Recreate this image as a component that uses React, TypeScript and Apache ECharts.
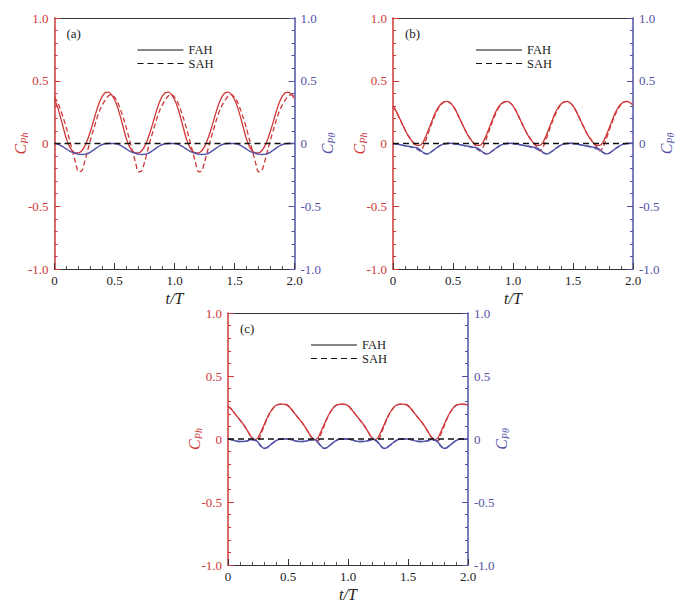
import React, { useEffect, useRef } from "react";
import * as echarts from "echarts";

// t/T sample positions (step 0.025)
const tValues = [
  0, 0.025, 0.05, 0.075, 0.1, 0.125, 0.15, 0.175, 0.2, 0.225, 0.25, 0.275, 0.3, 0.325, 0.35, 0.375, 0.4, 0.425, 0.45, 0.475,
  0.5, 0.525, 0.55, 0.575, 0.6, 0.625, 0.65, 0.675, 0.7, 0.725, 0.75, 0.775, 0.8, 0.825, 0.85, 0.875, 0.9, 0.925, 0.95, 0.975,
  1.0, 1.025, 1.05, 1.075, 1.1, 1.125, 1.15, 1.175, 1.2, 1.225, 1.25, 1.275, 1.3, 1.325, 1.35, 1.375, 1.4, 1.425, 1.45, 1.475,
  1.5, 1.525, 1.55, 1.575, 1.6, 1.625, 1.65, 1.675, 1.7, 1.725, 1.75, 1.775, 1.8, 1.825, 1.85, 1.875, 1.9, 1.925, 1.95, 1.975,
  2.0,
];

// Panel (a)
const cphFAH_a = [
  0.35, 0.29, 0.21, 0.12, 0.035, -0.025, -0.06, -0.075, -0.075, -0.06, -0.025, 0.03, 0.1, 0.18, 0.26, 0.33, 0.38, 0.405, 0.41, 0.39,
  0.35, 0.29, 0.21, 0.12, 0.035, -0.025, -0.06, -0.075, -0.075, -0.06, -0.025, 0.03, 0.1, 0.18, 0.26, 0.33, 0.38, 0.405, 0.41, 0.39,
  0.35, 0.29, 0.21, 0.12, 0.035, -0.025, -0.06, -0.075, -0.075, -0.06, -0.025, 0.03, 0.1, 0.18, 0.26, 0.33, 0.38, 0.405, 0.41, 0.39,
  0.35, 0.29, 0.21, 0.12, 0.035, -0.025, -0.06, -0.075, -0.075, -0.06, -0.025, 0.03, 0.1, 0.18, 0.26, 0.33, 0.38, 0.405, 0.41, 0.39,
  0.36,
];
const cphSAH_a = [
  0.37, 0.33, 0.27, 0.2, 0.12, 0.03, -0.06, -0.15, -0.225, -0.22, -0.15, -0.06, 0.03, 0.11, 0.19, 0.26, 0.31, 0.35, 0.38, 0.39,
  0.37, 0.33, 0.27, 0.2, 0.12, 0.03, -0.06, -0.15, -0.225, -0.22, -0.15, -0.06, 0.03, 0.11, 0.19, 0.26, 0.31, 0.35, 0.38, 0.39,
  0.37, 0.33, 0.27, 0.2, 0.12, 0.03, -0.06, -0.15, -0.225, -0.22, -0.15, -0.06, 0.03, 0.11, 0.19, 0.26, 0.31, 0.35, 0.38, 0.39,
  0.37, 0.33, 0.27, 0.2, 0.12, 0.03, -0.06, -0.15, -0.225, -0.22, -0.15, -0.06, 0.03, 0.11, 0.19, 0.26, 0.31, 0.35, 0.38, 0.39,
  0.37,
];
const cptFAH_a = [
  0, -0.005, -0.015, -0.03, -0.045, -0.06, -0.07, -0.078, -0.085, -0.088, -0.087, -0.08, -0.068, -0.052, -0.035, -0.02, -0.008, -0.002, 0, 0,
  0, -0.005, -0.015, -0.03, -0.045, -0.06, -0.07, -0.078, -0.085, -0.088, -0.087, -0.08, -0.068, -0.052, -0.035, -0.02, -0.008, -0.002, 0, 0,
  0, -0.005, -0.015, -0.03, -0.045, -0.06, -0.07, -0.078, -0.085, -0.088, -0.087, -0.08, -0.068, -0.052, -0.035, -0.02, -0.008, -0.002, 0, 0,
  0, -0.005, -0.015, -0.03, -0.045, -0.06, -0.07, -0.078, -0.085, -0.088, -0.087, -0.08, -0.068, -0.052, -0.035, -0.02, -0.008, -0.002, 0, 0,
  0,
];

// Panel (b)
const cphFAH_b = [
  0.3, 0.26, 0.21, 0.16, 0.11, 0.065, 0.03, 0.0, -0.015, -0.015, 0.01, 0.06, 0.12, 0.18, 0.24, 0.285, 0.315, 0.332, 0.335, 0.325,
  0.3, 0.26, 0.21, 0.16, 0.11, 0.065, 0.03, 0.0, -0.015, -0.015, 0.01, 0.06, 0.12, 0.18, 0.24, 0.285, 0.315, 0.332, 0.335, 0.325,
  0.3, 0.26, 0.21, 0.16, 0.11, 0.065, 0.03, 0.0, -0.015, -0.015, 0.01, 0.06, 0.12, 0.18, 0.24, 0.285, 0.315, 0.332, 0.335, 0.325,
  0.3, 0.26, 0.21, 0.16, 0.11, 0.065, 0.03, 0.0, -0.015, -0.015, 0.01, 0.06, 0.12, 0.18, 0.24, 0.285, 0.315, 0.332, 0.335, 0.325,
  0.31,
];
const cphSAH_b = [
  0.3, 0.26, 0.21, 0.16, 0.11, 0.065, 0.03, 0.0, -0.03, -0.06, -0.03, 0.03, 0.1, 0.165, 0.225, 0.275, 0.31, 0.33, 0.335, 0.325,
  0.3, 0.26, 0.21, 0.16, 0.11, 0.065, 0.03, 0.0, -0.03, -0.06, -0.03, 0.03, 0.1, 0.165, 0.225, 0.275, 0.31, 0.33, 0.335, 0.325,
  0.3, 0.26, 0.21, 0.16, 0.11, 0.065, 0.03, 0.0, -0.03, -0.06, -0.03, 0.03, 0.1, 0.165, 0.225, 0.275, 0.31, 0.33, 0.335, 0.325,
  0.3, 0.26, 0.21, 0.16, 0.11, 0.065, 0.03, 0.0, -0.03, -0.06, -0.03, 0.03, 0.1, 0.165, 0.225, 0.275, 0.31, 0.33, 0.335, 0.325,
  0.31,
];
const cptFAH_b = [
  0, -0.004, -0.008, -0.013, -0.018, -0.022, -0.026, -0.03, -0.035, -0.05, -0.07, -0.083, -0.078, -0.062, -0.044, -0.027, -0.012, -0.003, 0, 0.002,
  0, -0.004, -0.008, -0.013, -0.018, -0.022, -0.026, -0.03, -0.035, -0.05, -0.07, -0.083, -0.078, -0.062, -0.044, -0.027, -0.012, -0.003, 0, 0.002,
  0, -0.004, -0.008, -0.013, -0.018, -0.022, -0.026, -0.03, -0.035, -0.05, -0.07, -0.083, -0.078, -0.062, -0.044, -0.027, -0.012, -0.003, 0, 0.002,
  0, -0.004, -0.008, -0.013, -0.018, -0.022, -0.026, -0.03, -0.035, -0.05, -0.07, -0.083, -0.078, -0.062, -0.044, -0.027, -0.012, -0.003, 0, 0.002,
  0,
];
const cptSAH_b = [
  0, -0.004, -0.008, -0.013, -0.018, -0.022, -0.028, -0.035, -0.045, -0.058, -0.072, -0.083, -0.078, -0.062, -0.044, -0.027, -0.012, -0.003, 0, 0.002,
  0, -0.004, -0.008, -0.013, -0.018, -0.022, -0.028, -0.035, -0.045, -0.058, -0.072, -0.083, -0.078, -0.062, -0.044, -0.027, -0.012, -0.003, 0, 0.002,
  0, -0.004, -0.008, -0.013, -0.018, -0.022, -0.028, -0.035, -0.045, -0.058, -0.072, -0.083, -0.078, -0.062, -0.044, -0.027, -0.012, -0.003, 0, 0.002,
  0, -0.004, -0.008, -0.013, -0.018, -0.022, -0.028, -0.035, -0.045, -0.058, -0.072, -0.083, -0.078, -0.062, -0.044, -0.027, -0.012, -0.003, 0, 0.002,
  0,
];

// Panel (c)
const cphFAH_c = [
  0.26, 0.24, 0.21, 0.18, 0.15, 0.12, 0.085, 0.045, 0.01, -0.005, 0.01, 0.06, 0.11, 0.165, 0.21, 0.245, 0.268, 0.275, 0.277, 0.275,
  0.265, 0.24, 0.21, 0.18, 0.15, 0.12, 0.085, 0.045, 0.01, -0.005, 0.01, 0.06, 0.11, 0.165, 0.21, 0.245, 0.268, 0.275, 0.277, 0.275,
  0.265, 0.24, 0.21, 0.18, 0.15, 0.12, 0.085, 0.045, 0.01, -0.005, 0.01, 0.06, 0.11, 0.165, 0.21, 0.245, 0.268, 0.275, 0.277, 0.275,
  0.265, 0.24, 0.21, 0.18, 0.15, 0.12, 0.085, 0.045, 0.01, -0.005, 0.01, 0.06, 0.11, 0.165, 0.21, 0.245, 0.268, 0.275, 0.277, 0.275,
  0.27,
];
const cphSAH_c = [
  0.26, 0.24, 0.21, 0.18, 0.15, 0.12, 0.085, 0.045, 0.01, -0.01, -0.015, 0.04, 0.1, 0.16, 0.207, 0.243, 0.267, 0.275, 0.277, 0.275,
  0.265, 0.24, 0.21, 0.18, 0.15, 0.12, 0.085, 0.045, 0.01, -0.01, -0.015, 0.04, 0.1, 0.16, 0.207, 0.243, 0.267, 0.275, 0.277, 0.275,
  0.265, 0.24, 0.21, 0.18, 0.15, 0.12, 0.085, 0.045, 0.01, -0.01, -0.015, 0.04, 0.1, 0.16, 0.207, 0.243, 0.267, 0.275, 0.277, 0.275,
  0.265, 0.24, 0.21, 0.18, 0.15, 0.12, 0.085, 0.045, 0.01, -0.01, -0.015, 0.04, 0.1, 0.16, 0.207, 0.243, 0.267, 0.275, 0.277, 0.275,
  0.27,
];
const cptFAH_c = [
  0, -0.005, -0.012, -0.018, -0.02, -0.02, -0.017, -0.01, -0.003, -0.005, -0.025, -0.055, -0.075, -0.068, -0.05, -0.03, -0.013, -0.003, 0, 0,
  0, -0.005, -0.012, -0.018, -0.02, -0.02, -0.017, -0.01, -0.003, -0.005, -0.025, -0.055, -0.075, -0.068, -0.05, -0.03, -0.013, -0.003, 0, 0,
  0, -0.005, -0.012, -0.018, -0.02, -0.02, -0.017, -0.01, -0.003, -0.005, -0.025, -0.055, -0.075, -0.068, -0.05, -0.03, -0.013, -0.003, 0, 0,
  0, -0.005, -0.012, -0.018, -0.02, -0.02, -0.017, -0.01, -0.003, -0.005, -0.025, -0.055, -0.075, -0.068, -0.05, -0.03, -0.013, -0.003, 0, 0,
  0,
];
const cptSAH_c = [
  0, -0.005, -0.012, -0.018, -0.02, -0.02, -0.017, -0.012, -0.008, -0.012, -0.03, -0.058, -0.075, -0.068, -0.05, -0.03, -0.013, -0.003, 0, 0,
  0, -0.005, -0.012, -0.018, -0.02, -0.02, -0.017, -0.012, -0.008, -0.012, -0.03, -0.058, -0.075, -0.068, -0.05, -0.03, -0.013, -0.003, 0, 0,
  0, -0.005, -0.012, -0.018, -0.02, -0.02, -0.017, -0.012, -0.008, -0.012, -0.03, -0.058, -0.075, -0.068, -0.05, -0.03, -0.013, -0.003, 0, 0,
  0, -0.005, -0.012, -0.018, -0.02, -0.02, -0.017, -0.012, -0.008, -0.012, -0.03, -0.058, -0.075, -0.068, -0.05, -0.03, -0.013, -0.003, 0, 0,
  0,
];

// Zero reference line (t/T, value)
const zeroLineT = [0, 2];
const zeroLineV = [0, 0];

const panelLabels = ["(a)", "(b)", "(c)"];
const legendNames = ["FAH", "SAH"];
const yLeftName = "Ph";
const yRightName = "P\u03b8";
const xName = "t/T";

const FONT = "Liberation Serif, Times New Roman, serif";
const RED = "#cf3838";
const BLUE = "#5252a5";
const DARK = "#222";

const App: React.FC = () => {
  const ref = useRef<HTMLDivElement>(null);

  useEffect(() => {
    document.body.style.margin = "0";
    if (!ref.current) return;
    const chart = echarts.init(ref.current, null, { renderer: "svg" });

    const layouts = [
      { left: 54.5, top: 18, width: 240, height: 251 },
      { left: 393, top: 18, width: 240, height: 251 },
      { left: 228, top: 313, width: 240, height: 252 },
    ];
    const panelData = [
      { fah: cphFAH_a, sah: cphSAH_a, tf: cptFAH_a, ts: null as number[] | null },
      { fah: cphFAH_b, sah: cphSAH_b, tf: cptFAH_b, ts: cptSAH_b },
      { fah: cphFAH_c, sah: cphSAH_c, tf: cptFAH_c, ts: cptSAH_c },
    ];
    const pair = (arr: number[]) => tValues.map((t, i) => [t, arr[i]]);
    const fmt = (v: number) => (v === 0 ? "0" : v.toFixed(1));

    const grid: any[] = [];
    const xAxis: any[] = [];
    const yAxis: any[] = [];
    const series: any[] = [];
    const graphic: any[] = [];

    layouts.forEach((L, i) => {
      grid.push({ left: L.left, top: L.top, width: L.width, height: L.height, containLabel: false });
      xAxis.push({
        type: "value",
        gridIndex: i,
        min: 0,
        max: 2,
        interval: 0.5,
        position: "bottom",
        axisLine: { show: true, onZero: false, lineStyle: { color: "#333", width: 1.2 } },
        axisTick: { show: true, inside: true, length: 6, lineStyle: { color: "#333" } },
        minorTick: { show: true, splitNumber: 5, length: 3, lineStyle: { color: "#555" } },
        splitLine: { show: false },
        axisLabel: { color: DARK, fontFamily: FONT, fontSize: 13, margin: 5, formatter: fmt },
        name: xName,
        nameLocation: "middle",
        nameGap: 21,
        nameMoveOverlap: false,
        nameTextStyle: { color: DARK, fontFamily: FONT, fontSize: 16, fontStyle: "italic" },
      });
      xAxis.push({
        type: "value",
        gridIndex: i,
        min: 0,
        max: 2,
        position: "top",
        axisLine: { show: true, onZero: false, lineStyle: { color: "#333", width: 1.2 } },
        axisTick: { show: false },
        axisLabel: { show: false },
        splitLine: { show: false },
      });
      const yBase = (color: string, pos: string, nm: string, gap: number) => ({
        type: "value",
        gridIndex: i,
        min: -1,
        max: 1,
        interval: 0.5,
        position: pos,
        axisLine: { show: true, onZero: false, lineStyle: { color, width: 1.5 } },
        axisTick: { show: true, inside: true, length: 6, lineStyle: { color } },
        minorTick: { show: true, splitNumber: 5, length: 3, lineStyle: { color } },
        splitLine: { show: false },
        axisLabel: { color, fontFamily: FONT, fontSize: 13, margin: 6, formatter: fmt },
        name: "{c|C}{s|" + nm + "}",
        nameLocation: "middle",
        nameRotate: 90,
        nameGap: gap,
        nameMoveOverlap: false,
        nameTextStyle: {
          color,
          rich: {
            c: { color, fontFamily: FONT, fontSize: 16, fontStyle: "italic", lineHeight: 16, verticalAlign: "top" },
            s: { color, fontFamily: FONT, fontSize: 10, fontStyle: "italic", lineHeight: 10, padding: [7, 0, 0, 0], verticalAlign: "top" },
          },
        },
      });
      yAxis.push(yBase(RED, "left", yLeftName, 26));
      yAxis.push(yBase(BLUE, "right", yRightName, 25));

      const d = panelData[i];
      const common = { type: "line", showSymbol: false, smooth: 0.3, silent: true };
      series.push({ ...common, name: "FAH C_Ph", xAxisIndex: 2 * i, yAxisIndex: 2 * i, data: pair(d.fah), lineStyle: { color: RED, width: 1.3 } });
      series.push({ ...common, name: "SAH C_Ph", xAxisIndex: 2 * i, yAxisIndex: 2 * i, data: pair(d.sah), lineStyle: { color: RED, width: 1.3, type: [5, 3] } });
      series.push({ ...common, name: "FAH C_Ptheta", xAxisIndex: 2 * i, yAxisIndex: 2 * i + 1, data: pair(d.tf), lineStyle: { color: BLUE, width: 1.4 } });
      if (d.ts) {
        series.push({ ...common, name: "SAH C_Ptheta", xAxisIndex: 2 * i, yAxisIndex: 2 * i + 1, data: pair(d.ts), lineStyle: { color: BLUE, width: 1.3, type: [5, 3] } });
      }
      series.push({
        type: "line",
        name: "zero",
        showSymbol: false,
        silent: true,
        xAxisIndex: 2 * i,
        yAxisIndex: 2 * i + 1,
        data: zeroLineT.map((t, k) => [t, zeroLineV[k]]),
        lineStyle: { color: "#111", width: 1.5, type: [6, 4] },
      });

      // legend & panel label
      const lx = L.left + 83;
      const ly1 = L.top + 32;
      const ly2 = L.top + 45.5;
      const tf = "12.5px " + FONT;
      graphic.push({ type: "line", shape: { x1: lx, y1: ly1, x2: lx + 46, y2: ly1 }, style: { stroke: "#111", lineWidth: 1.2 } });
      graphic.push({ type: "line", shape: { x1: lx, y1: ly2, x2: lx + 46, y2: ly2 }, style: { stroke: "#111", lineWidth: 1.2, lineDash: [6, 4] } });
      graphic.push({ type: "text", x: lx + 51, y: ly1, style: { text: legendNames[0], fill: DARK, font: tf, verticalAlign: "middle" } });
      graphic.push({ type: "text", x: lx + 51, y: ly2, style: { text: legendNames[1], fill: DARK, font: tf, verticalAlign: "middle" } });
      graphic.push({ type: "text", x: L.left + 12, y: L.top + 15, style: { text: panelLabels[i], fill: DARK, font: "13px " + FONT, verticalAlign: "middle" } });
    });

    chart.setOption({
      animation: false,
      backgroundColor: "#fff",
      grid,
      xAxis,
      yAxis,
      series,
      graphic,
    });

    return () => chart.dispose();
  }, []);

  return <div ref={ref} style={{ width: 695, height: 606 }} />;
};

export default App;
